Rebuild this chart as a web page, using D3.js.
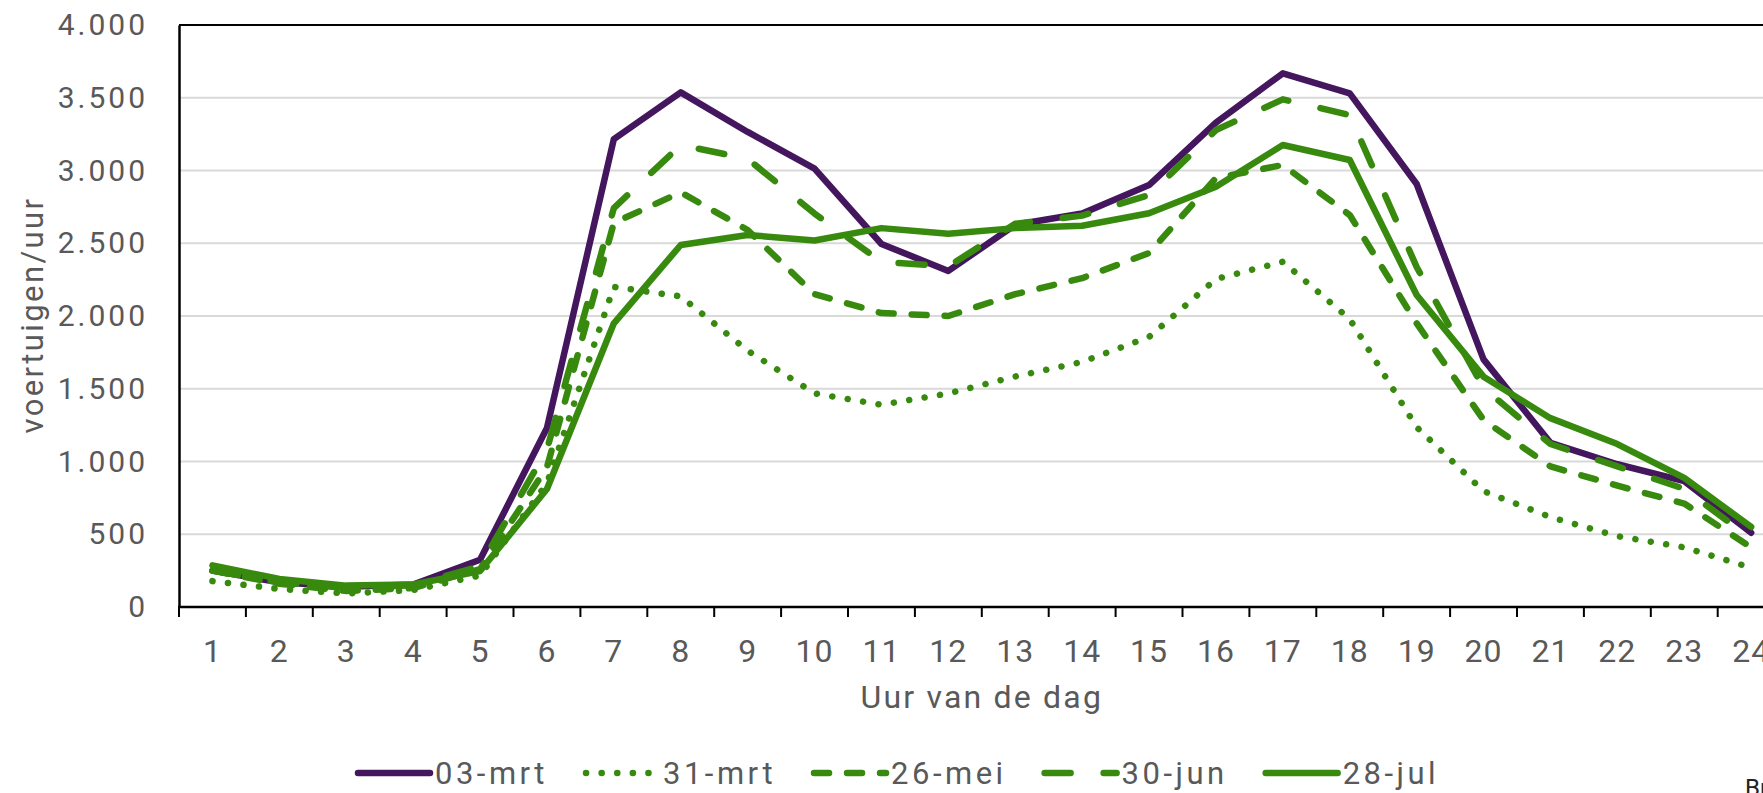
<!DOCTYPE html>
<html>
<head>
<meta charset="utf-8">
<script src="https://cdn.jsdelivr.net/npm/d3@7"></script>
<style>
  html, body { margin: 0; padding: 0; background: #fff; overflow: hidden; }
  svg { display: block; }
  text { font-family: Roboto, "Liberation Sans", sans-serif; }
</style>
</head>
<body>
<svg id="chart" width="1763" height="793"></svg>
<script>
// ---- data ----
const hours = ["1","2","3","4","5","6","7","8","9","10","11","12","13","14","15","16","17","18","19","20","21","22","23","24"];
const yTicks = [0, 500, 1000, 1500, 2000, 2500, 3000, 3500, 4000];
const seriesNames = ["03-mrt", "31-mrt", "26-mei", "30-jun", "28-jul"];
const s03mrt = [250,170,140,155,325,1230,3216,3537,3265,3013,2495,2310,2627,2704,2900,3329,3668,3530,2907,1702,1128,981,865,510];
const s31mrt = [178,124,93,116,216,850,2200,2135,1762,1468,1390,1468,1584,1684,1856,2254,2373,1979,1236,796,618,487,410,270];
const s26mei = [250,160,110,130,260,960,2640,2850,2591,2150,2020,2000,2150,2260,2433,2948,3038,2694,1950,1285,966,834,711,410];
const s30jun = [250,170,130,150,280,1082,2742,3175,3080,2704,2372,2341,2634,2690,2832,3278,3489,3381,2337,1505,1120,966,812,470];
const s28jul = [286,193,147,155,247,811,1950,2488,2557,2519,2604,2565,2604,2620,2706,2889,3175,3072,2144,1583,1298,1120,888,550];
const xTitle = "Uur van de dag";
const yTitle = "voertuigen/uur";
const sourceText = "Bron";

// ---- styles ----
const purple = "#44165E";
const green = "#388A0F";
const styles = [
  {color: purple, dash: null},
  {color: green, dash: "0.1,15.5"},
  {color: green, dash: "15,18"},
  {color: green, dash: "26,33"},
  {color: green, dash: null}
];
const seriesData = [s03mrt, s31mrt, s26mei, s30jun, s28jul];

const svg = d3.select("#chart");
const mLeft = 179, mTop = 25, mBottom = 607, bandW = 66.9;
const mRight = mLeft + bandW * hours.length;

const x = d3.scaleBand().domain(hours).range([mLeft, mRight]).padding(0);
const y = d3.scaleLinear().domain([0, 4000]).range([mBottom, mTop]);

// gridlines
svg.append("g").selectAll("line").data(yTicks.filter(d => d > 0 && d < 4000)).join("line")
  .attr("x1", mLeft).attr("x2", mRight)
  .attr("y1", d => y(d)).attr("y2", d => y(d))
  .attr("stroke", "#d9d9d9").attr("stroke-width", 2);

// top border
svg.append("line").attr("x1", mLeft).attr("x2", mRight).attr("y1", y(4000)).attr("y2", y(4000))
  .attr("stroke", "#000").attr("stroke-width", 2);

// y axis
const yAxis = svg.append("g").attr("transform", `translate(${mLeft},0)`)
  .call(d3.axisLeft(y).tickValues(yTicks).tickSize(0).tickPadding(31)
    .tickFormat(d => d3.format(",")(d).replace(/,/g, ".")));
yAxis.select(".domain").attr("stroke", "#000").attr("stroke-width", 2.5);
yAxis.selectAll("text").attr("font-size", 30).attr("fill", "#595959")
  .attr("letter-spacing", 3).attr("font-family", "Roboto");

// x axis
const xAxis = svg.append("g").attr("transform", `translate(0,${mBottom})`)
  .call(d3.axisBottom(x).tickSize(0).tickPadding(0));
xAxis.select(".domain").remove();
xAxis.selectAll("text").attr("font-size", 32).attr("fill", "#595959")
  .attr("dy", 0).attr("y", 55).attr("letter-spacing", 1).attr("font-family", "Roboto");
svg.append("line").attr("x1", mLeft - 1).attr("x2", mRight).attr("y1", mBottom).attr("y2", mBottom)
  .attr("stroke", "#000").attr("stroke-width", 2.5);
// tick marks at band boundaries
svg.append("g").selectAll("line").data(hours.concat(["end"])).join("line")
  .attr("x1", (d, i) => mLeft + i * x.step()).attr("x2", (d, i) => mLeft + i * x.step())
  .attr("y1", mBottom).attr("y2", mBottom + 10)
  .attr("stroke", "#000").attr("stroke-width", 2);

// axis titles
svg.append("text").attr("x", (mLeft + mRight) / 2).attr("y", 708)
  .attr("text-anchor", "middle").attr("font-size", 32).attr("fill", "#595959")
  .attr("letter-spacing", 2.2).text(xTitle);
svg.append("text").attr("transform", "translate(43,315) rotate(-90)")
  .attr("text-anchor", "middle").attr("font-size", 31).attr("fill", "#595959")
  .attr("letter-spacing", 2.4).text(yTitle);

// lines
const line = d3.line().x((d, i) => x(hours[i]) + x.bandwidth() / 2).y(d => y(d));
svg.append("g").selectAll("path").data(seriesData).join("path")
  .attr("d", d => line(d))
  .attr("fill", "none")
  .attr("stroke", (d, i) => styles[i].color)
  .attr("stroke-width", 6.5)
  .attr("stroke-linejoin", "round")
  .attr("stroke-linecap", "round")
  .attr("stroke-dasharray", (d, i) => styles[i].dash);

// legend (laid out sequentially)
const legY = 773, sampleW = 72, legGap = 38;
let legX = 358;
const legG = svg.append("g");
seriesNames.forEach((name, i) => {
  const g = legG.append("g").attr("transform", `translate(${legX},${legY})`);
  g.append("line").attr("x1", 0).attr("x2", sampleW).attr("y1", 0).attr("y2", 0)
    .attr("stroke", styles[i].color).attr("stroke-width", 6.5)
    .attr("stroke-linecap", "round")
    .attr("stroke-dasharray", styles[i].dash);
  const t = g.append("text").attr("x", sampleW + 5).attr("y", 11).attr("font-size", 31)
    .attr("fill", "#595959").attr("letter-spacing", 3.5).text(name);
  legX += sampleW + 5 + t.node().getComputedTextLength() + legGap;
});

// source (clipped at the edge like the reference)
svg.append("text").attr("x", 1745).attr("y", 796).attr("font-size", 24)
  .attr("fill", "#222").text(sourceText);
</script>
</body>
</html>
